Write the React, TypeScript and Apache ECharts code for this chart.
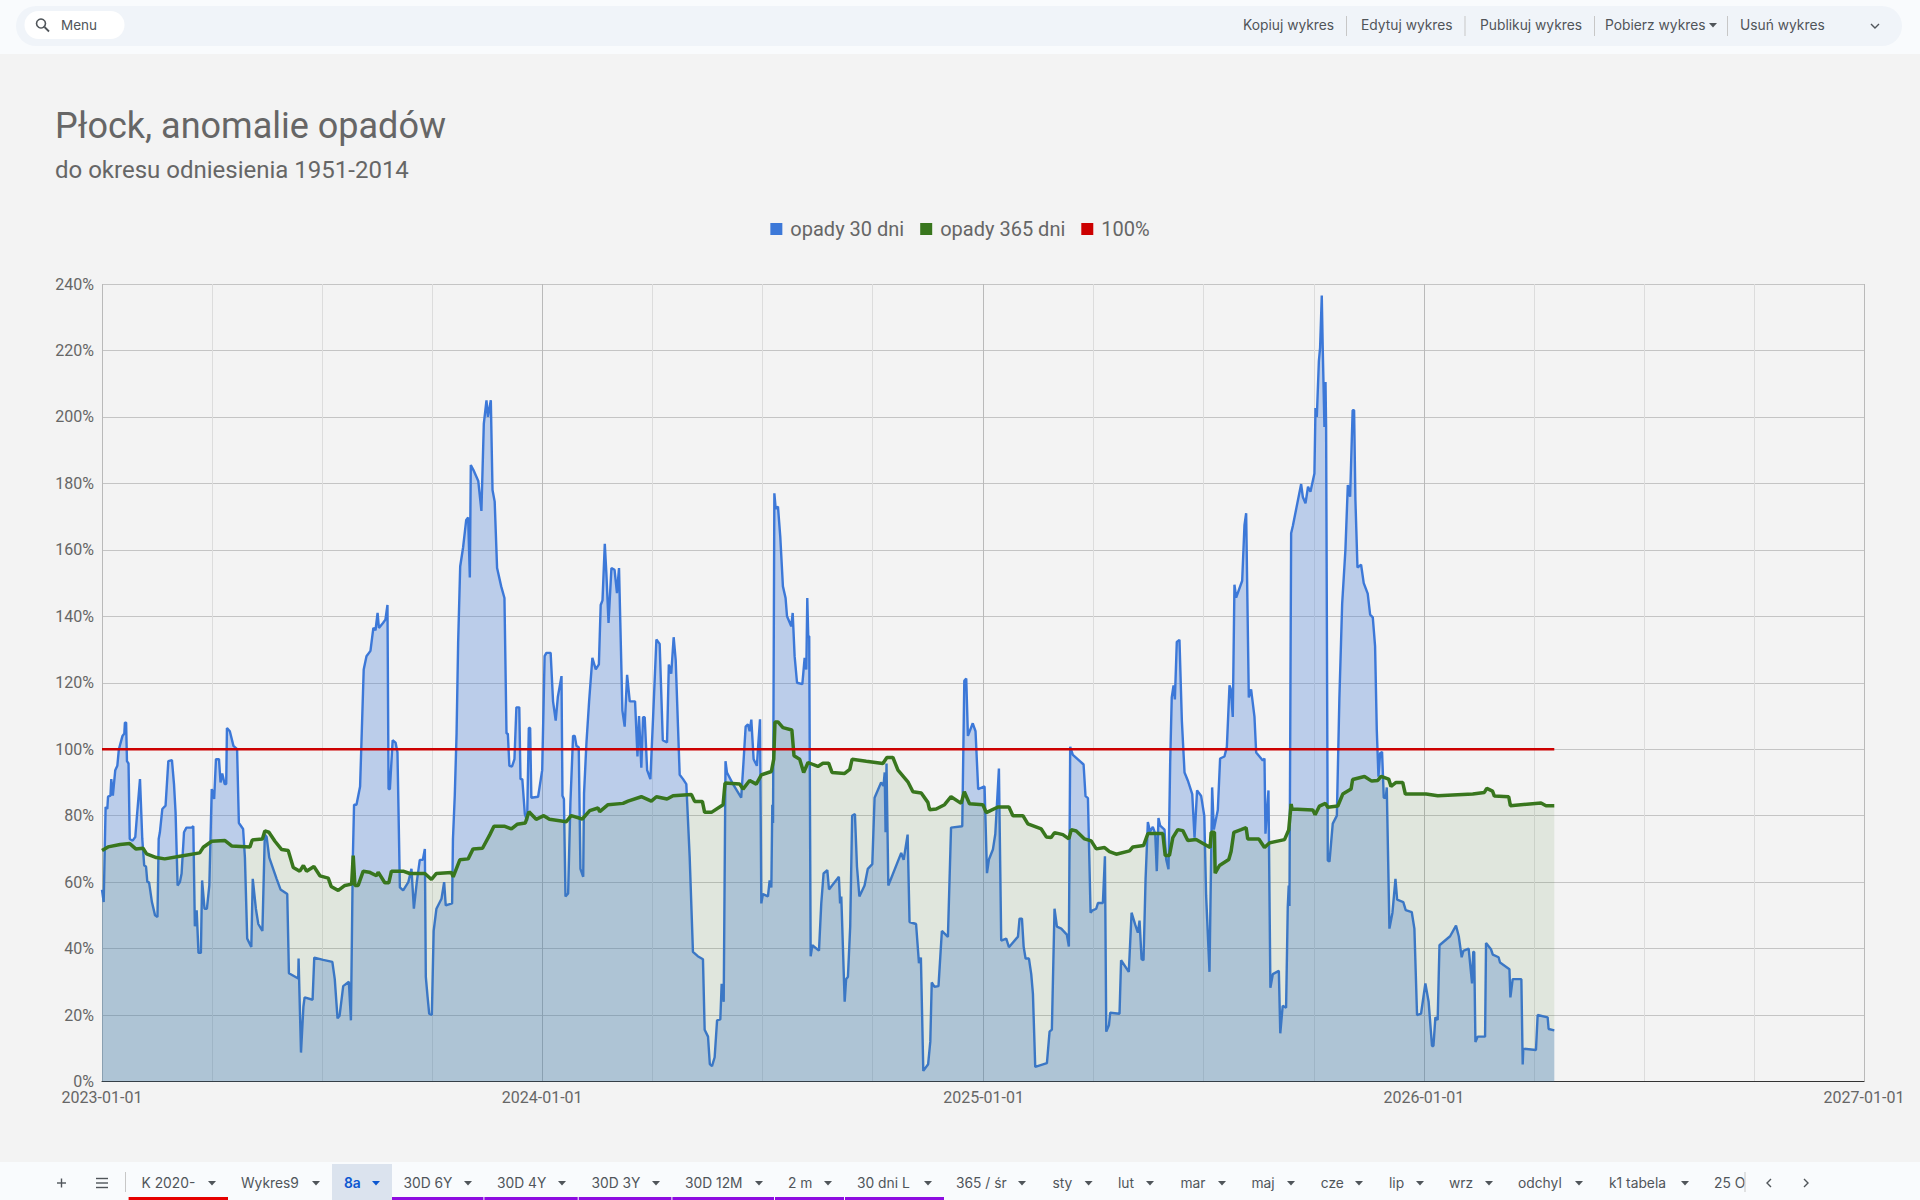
import React, { useEffect, useRef } from "react";
import * as echarts from "echarts";

const DAY_MS = 86400000;
const START = Date.UTC(2023, 0, 1);
const END = Date.UTC(2027, 0, 1);

const titleText = "Płock, anomalie opadów";
const subtitleText = "do okresu odniesienia 1951-2014";
const seriesNames = ["opady 30 dni", "opady 365 dni", "100%"];
const yearTicks = ["2023-01-01", "2024-01-01", "2025-01-01", "2026-01-01", "2027-01-01"];
// minor gridlines, in days since 2023-01-01: each year cut into four equal parts
const quarterTickDays = [91.3, 182.5, 273.8, 456.3, 547.7, 639, 822.3, 913.5, 1004.8, 1187.3, 1278.5, 1369.8];

// [days since 2023-01-01, percent]
const rain30: number[][] = [
  [0,57.7],[1.4,54],[3,82.6],[4.4,82],[5,85.7],[7,86],[7.7,91],[9,86],[11,93.7],[12.7,95],[14,100],[17,104],[18.5,104.7],[19,108],[20,108],[20.7,96.4],[22,95.7],[23,73],[25.4,72.5],[27.6,73.6],[29,80],[31.5,91],[32,91],[33.4,73],[35,65],[36.5,64.7],[37.6,60],[39,60],[41.4,54],[44,50],[46,49.5],[47,73],[48,75],[50,82],[52.7,83],[55,96.4],[58,96.7],[59.7,89.5],[61,81],[62.7,59],[64.6,60],[66,62.6],[68,75],[70,76.4],[74.3,76.4],[75.7,76.8],[77,46.7],[78.5,51.5],[80,38.7],[82,38.7],[83,60.5],[85,52],[87,52],[89,59],[91,88],[93,85],[94.5,97],[97,97],[98.3,90],[99.7,92.7],[101.7,89.5],[103,89.5],[103.6,106.4],[106,105.4],[109,101],[112,100],[113.5,77.8],[117,76],[118.5,67.4],[120.4,43],[123.8,40.5],[125,61],[127.6,52],[129.6,47.4],[133,45.3],[135,74.3],[136.5,73.6],[138.7,67.4],[144.8,61],[148,57.8],[153.6,56.4],[155,32.6],[162.7,31],[163,37],[165,8.7],[167,22.5],[168,25.3],[174.6,24.6],[176,37.3],[183.4,36.6],[191,36],[193,30.8],[195.3,19],[197,19.8],[200,28.7],[204.7,30],[206.4,18.4],
  [208,67.4],[209,83.3],[211,83.3],[214,88.8],[217,124],[219.3,128],[222.6,129.6],[225,136.5],[226.8,135.8],[228.5,141],[229.6,136.5],[233,138],[235,139],[236.7,143.4],[237.6,88],[238.7,88],[241,102.7],[243.4,102],[245,99],[247,58.4],[249.7,57.5],[254,60],[256.6,64],[258.6,52],[261,60],[263.5,66.7],[266,66.7],[267.7,70],[268.5,31.5],[270,25.3],[271.3,20.4],[273.5,20],[275,45.3],[277.3,52],[281.5,55],[283.7,60],[285,53],[290.3,53.6],[291,73],[292.5,86],[294,104.7],[295.3,132],[297,155],[299.4,160.7],[302,169],[303.6,169.7],[305,151.7],[305.8,185.5],[308,184],[312,180.7],[314.6,171.7],[316.6,198],[318.8,205],[320,200],[322.4,205],[323.8,178],[325.6,174.5],[327.6,154.5],[331,149],[333.7,145.5],[335.4,104.7],[336.5,104.7],[337.8,95],[340,94.8],[342,97],[343.6,112.6],[346,112.6],[347,91],[348.5,91],[350.6,80.5],[352.5,78.5],[353.9,106.4],[355,106.4],[356,85.4],[361.6,85.7],[365,93.7],
  [367,128],[368.5,129],[372,129],[374,114.4],[376.2,108.6],[378,115.8],[381,122],[381.8,86],[383,85],[384.3,55.7],[386.5,56.6],[388.4,84],[390.6,104],[392,104],[393.4,101],[395.3,100.6],[396.7,64],[399,61.6],[399.7,86.8],[401.7,102],[403.9,114.4],[406.6,127.5],[409.4,124],[412,125.5],[413.5,143.4],[415,144.8],[416.9,161.8],[418.2,153],[420,138],[422.4,154.5],[425,154],[427,147],[428.7,154.5],[431.5,111.6],[433.4,106.8],[435.4,122.4],[437.6,114.4],[442,114.4],[444,97.8],[445.3,110],[447.2,94.4],[448.6,109.6],[450,109.6],[452,93.7],[454.7,91],[457,110],[459.7,133],[462.4,131.7],[465,102.7],[468.5,102],[470,125.5],[472,122.7],[474,133.7],[475.7,126.8],[477.6,106.8],[479,92.3],[481.8,91],[484.5,89.5],[487.3,67.4],[490,39],[494,37.7],[498.3,36.8],[499.7,15.6],[502.5,13.5],[504,5.2],[505.8,4.6],[508,7.3],[510,18.4],[512.7,18.7],[513.8,29.4],[515.5,24],[517,96.4],[518.2,93],[523.2,89.5],[530,85.4],[531.5,93.7],[533.7,106.8],[535.6,107.5],[537,105.4],[538.4,108.9],[540.3,97],[543,95],[544,100.6],[545.6,109],[546.7,53.6],[548,56.4],[552.2,55.7],[553.6,60.5],[555,58.4],[555.8,83.3],[556.4,77.8],[557.5,177],[558.6,172.4],[560.5,173],[562.4,164],[564.6,149],[566.8,145.5],[568,140],[571.5,137],[572.7,141],[574.3,128],[576.3,120],[580.7,119.6],[582.6,127.5],[584,124],[584.8,145.5],[585.6,134],[586.4,134],[587.6,37.7],[589,41],[594.5,39.4],[596.4,53.6],[598.3,62.6],[601.4,63.6],[602.8,57.8],[611,61.6],[612,53.6],[613,55.7],[615.8,24],[617,30.8],[618.5,31.5],[620.4,46.7],[622,80],[624.3,80.5],[626,64.7],[628,55.7],[632.3,59],[635,64],[638.7,65.4],[640.6,85.4],[646,90],[648,89],[649,93],[649.7,75],[650.5,95.7],[652,59],[662.7,68.8],[664.7,66.7],[668,74.3],[669.6,48],[675,47.4],[677.4,35.6],[679,37.3],[681,3.2],[685,5.2],[686.8,12],[688,29.8],[690.3,28.5],[693.6,28.7],[696.4,45.3],[701.4,43.5],[704,76.4],[713.3,76.8],[715,120.6],[716.6,121.3],[718,104],[722,107.8],[724.3,105.4],[726.5,88],[731.8,88.8],[733.8,62.7],
  [735.4,66.8],[738.7,69.8],[740.7,74.5],[743.7,94.2],[745.6,42.4],[749.8,43],[752,40.4],[759.5,43.6],[760.8,49],[762.8,49],[764.2,40.6],[765.8,37],[768.6,37],[770.5,32.3],[771.9,26.4],[773.8,4.4],[783.5,5.5],[785.7,15],[787.6,15.6],[789.8,52],[791.8,46.6],[795.4,46],[800,44.2],[801.7,40.6],[802.8,100.7],[805,98.3],[813.9,95.4],[815.5,85.9],[817.5,85.3],[819.7,50.8],[821,51.4],[824.4,52],[825.8,53.7],[829.9,53.7],[831.6,67.8],[832.7,15],[834.9,16.9],[836,20.7],[843.7,20.4],[845,36.5],[851.4,33],[853.7,50.8],[856.7,47.2],[858.9,44.8],[860.3,48.4],[862,36.8],[863.6,36.5],[865.3,60.9],[867.2,78.1],[869,75.2],[871.3,76.6],[873.3,74.6],[874.6,63.3],[876,79.3],[877.4,77],[881,75.8],[882.4,66.8],[884.3,63.9],[885.7,96],[887,115.6],[888.5,119.2],[889.6,115],[891.2,132.3],[893.4,132.9],[895.4,108.5],[897.6,93],[900.3,90.6],[904,86.5],[905.9,73.4],[908,87.6],[911.4,85.9],[914,79.9],[915.5,56],[918.3,33],[920.5,88.5],[921.9,75.8],[925.2,81.7],[927.1,97.2],[930.7,97.8],[932.7,100.7],[934.9,119.2],[936,118],[937.6,109.7],[939,149.5],[940.4,145.6],[945.4,150.7],[947.3,167.4],[948.7,171],[950.9,115.6],[952.8,118],[955.6,109.7],[957,99],[962.5,96.6],[963.9,97.2],[964.7,74.6],[967.2,87.6],[968.8,28.2],[970.8,32.3],[975.8,33.3],[977,14.5],[979,22.8],[981.8,22.2],[983.2,52.5],[984,59],[984.6,52.8],
  [986,165],[987.4,167.2],[994.3,179.8],[995.7,175.9],[997.9,174],[1000,179],[1002,177.5],[1005.3,183],[1006.2,202.7],[1007.3,200],[1009,216.8],[1010,220.8],[1011.4,236.5],[1012.2,220.8],[1013.6,197],[1014.5,210.5],[1015,197],[1016.4,66.5],[1017.8,66.2],[1020.5,77.6],[1023.9,80],[1026,115.3],[1028.3,143.7],[1031,160],[1033,179.5],[1034.9,176],[1037,202],[1038.2,202],[1039.3,175],[1041,154.7],[1044,155.5],[1046.2,150],[1049.5,146.8],[1051.5,140.5],[1053.7,139.7],[1055.6,131],[1057,105.9],[1058.4,91.7],[1059.8,98.8],[1061.4,99.2],[1062.8,85.4],[1064.5,85.4],[1065.3,88.5],[1067.5,46],[1070,50.8],[1072.5,61],[1073.9,54.7],[1079,54],[1081,51.6],[1086,51],[1088.2,46],[1090.4,20],[1093.7,20.4],[1097.3,29.5],[1100,24],[1102.8,10.7],[1104,10.7],[1105.6,19.3],[1107.5,18.5],[1109,41],[1117.8,43.7],[1122.7,46.9],[1125,43.7],[1127.4,37.4],[1128.8,39.3],[1133.2,40],[1136,29.5],[1137,39],[1137.8,39],[1138.8,11.9],[1140.7,13.5],[1146.8,13.5],[1147.6,41.7],[1151.7,39.8],[1153.2,38.2],[1158,37.4],[1159.2,35.8],[1167,33.8],[1167.8,25.3],[1169.7,30.8],[1176.9,30.8],[1178,5.1],[1178.5,9.9],[1189,9.5],[1190.4,20],[1198.7,19.3],[1199.5,15.8],[1204.2,15.4],
];

const rain365: number[][] = [
  [0,69.5],[5,70.6],[15,71.3],[23,71.6],[28,70],[34,70.2],[37,68.5],[45,67.4],[52,67],[64.6,67.8],[81,68.8],[84,70.5],[91,72.3],[102,72.5],[107.5,70.9],[122.7,70.6],[124.6,72.7],[133,73],[135,75.4],[138.4,75],[143.4,72.3],[149,69.8],[154.4,69.5],[158.6,64.4],[164,63.3],[167,65],[169.6,63.3],[175.7,64.7],[180.7,61.9],[187.6,61.2],[190,58.7],[195.9,57.5],[201.4,59],[207,59.4],[208.3,68],[209.7,59],[212.4,59],[216.6,63.3],[221.6,63],[227.6,61.9],[229,63],[234.5,59.8],[237.8,59.8],[240,63.3],[249.7,63.3],[255.2,62.6],[267.7,62.6],[273.2,60.8],[277.3,62.6],[289.8,62.9],[291.2,61.6],[296.7,66.7],[303.6,67],[307.7,70],[315.5,70.2],[321.6,74.3],[325,76.8],[334,76.8],[339.5,76],[344.2,77.4],[351,77.8],[354,81.2],[360,78.9],[366.3,80],
  [371,78.9],[385,78.2],[389,80],[398.3,79],[404.4,81.5],[411.3,82.3],[412.7,81.2],[419.6,83.3],[432,83.7],[436.2,84.4],[447.2,85.7],[455.5,84.4],[459.7,85.7],[468.5,85],[473.5,86],[488.7,86.4],[491.4,84.3],[497.8,84.3],[499.7,81],[505.3,81],[515,83.3],[516.6,89.8],[528.7,89.5],[531.5,88],[537,90.6],[542.5,89.5],[546.7,92.3],[555,93.3],[557,97],[558,108.2],[560.5,108.2],[564.6,106.5],[572,105.8],[573.8,98],[578.5,97],[581.8,93],[585.4,96],[593.6,94.8],[597.8,95.8],[602.5,95.8],[605.3,93],[615.8,92.7],[620,93.9],[622,97],[633.7,96.4],[647.5,95.7],[650.8,97.5],[655.8,97.5],[660,93.7],[668.2,90.2],[672.4,87.2],[679.3,86.8],[684.8,84],[686.2,81.8],[691.7,82],[698.6,83.3],[704,85.7],[712.4,83.7],[715,87.2],[719.3,83.6],[730.4,83.3],[733.2,80.9],
  [742.9,82.6],[752,82.6],[755.3,80],[763.6,80],[767.7,77.5],[778.8,76],[783,73.6],[787,73.4],[789.8,74.9],[796.7,74.3],[801.7,73],[803.7,75.8],[807.8,75.4],[814.7,73],[820.2,72.4],[824.4,70],[831.3,70.4],[835.4,69.2],[841,68.4],[852,69.4],[854.8,70.6],[863.6,71],[867.2,74.6],[879.6,74.6],[881.6,68],[885.1,68],[887.9,73.4],[892,75.8],[896.2,75.5],[900.3,72.5],[907.2,72.8],[918.8,70.4],[919.7,75],[922.4,75],[923,62.7],[926.6,65],[934.3,66.8],[936.2,69.2],[938.5,75],[944.5,75.8],[948.7,76.4],[950,73],[959.2,73],[963.9,70.4],[968,71.8],[980.5,72.8],[984,75.7],[986,83.5],[986.8,82],[1004,81.7],[1005.9,80.3],[1009.5,82.9],[1014.4,83.7],[1016.4,82.5],[1024.7,82.9],[1028.8,86.5],[1035.7,88],[1037,90.9],[1046.8,91.8],[1052.8,90.4],[1057.8,90.6],[1060.6,91.8],[1066.9,91],[1068.8,88.8],[1073,90],[1078.5,90],[1080.7,86.5],
  [1097.9,86.5],[1107.6,86],[1136.6,86.5],[1146.2,87],[1148.2,88.2],[1153,87.4],[1154.5,85.9],[1166.4,85.7],[1167.8,83],[1193.2,83.8],[1197.3,83],[1204.2,83],
];

const reference100: number[][] = [[0,100],[1204.2,100]];

const toolbarLabels = ["Kopiuj wykres", "Edytuj wykres", "Publikuj wykres", "Pobierz wykres", "Usuń wykres"];
const toolbarX = [1243, 1361, 1480, 1605, 1740];
const toolbarSeparators = [1346.5, 1465, 1594.5, 1727.5];

const tabLabels = ["K 2020-","Wykres9","8a","30D 6Y","30D 4Y","30D 3Y","30D 12M","2 m","30 dni L","365 / śr","sty","lut","mar","maj","cze","lip","wrz","odchyl","k1 tabela"];
const tabTextX = [141.5,241,344,403.5,497,591.5,685,788,857,956,1052.5,1118,1180.5,1251.5,1320.7,1389,1449,1518,1609];
const tabArrowX = [212,316,376,468,562,656,759,828,928,1022,1088.6,1150,1222,1291,1359,1420,1489,1579,1685];
const purpleEdges = [392,484.4,578.7,672.4,775,845,945];

const FONT = "Roboto";
const UI_FONT = "Inter";
const UI = "#50555a";

function days(points: number[][]) {
  return points.map(([d, v]) => [START + d * DAY_MS, v]);
}
function uiText(text: string, x: number, y: number, extra: any = {}) {
  return { type: "text", x, y, silent: true, style: { text, fontFamily: UI_FONT, fontSize: 13.8, fill: UI, verticalAlign: "middle", ...extra } };
}
function arrow(x: number, y: number, fill = UI) {
  return { type: "polygon", silent: true, shape: { points: [[x - 4, y - 2], [x + 4, y - 2], [x, y + 2.5]] }, style: { fill } };
}
function rect(x: number, y: number, width: number, height: number, fill: string, r = 0) {
  return { type: "rect", silent: true, shape: { x, y, width, height, r }, style: { fill } };
}
function line(x1: number, y1: number, x2: number, y2: number, stroke: string, lineWidth = 1) {
  return { type: "line", silent: true, shape: { x1, y1, x2, y2 }, style: { stroke, lineWidth } };
}

function chrome() {
  const els: any[] = [
    rect(0, 0, 1920, 54, "#f9fbfd"),
    rect(16, 6, 1886, 40, "#f0f4f9", 20),
    rect(24.5, 11, 100, 28, "#ffffff", 14),
    { type: "circle", silent: true, shape: { cx: 41, cy: 23.5, r: 4.5 }, style: { fill: "none", stroke: UI, lineWidth: 1.6 } },
    line(44.5, 27, 49, 31.5, UI, 1.8),
    uiText("Menu", 61, 25, { fontSize: 13.5 }),
    rect(0, 1162, 1920, 38, "#f9fbfd"),
    rect(332, 1164, 60, 36, "#dbe3ee"),
    line(57, 1183, 66, 1183, UI, 1.4),
    line(61.5, 1178.5, 61.5, 1187.5, UI, 1.4),
    line(96, 1178.5, 108, 1178.5, UI, 1.4),
    line(96, 1183, 108, 1183, UI, 1.4),
    line(96, 1187.5, 108, 1187.5, UI, 1.4),
    line(125.5, 1172, 125.5, 1192, "#c7c7c7"),
    rect(128.6, 1197, 99.4, 3, "#e60000"),
    uiText("25 O", 1714, 1182.5),
    line(1745, 1172, 1745, 1192, "#c7c7c7"),
    { type: "polyline", silent: true, shape: { points: [[1771, 1179], [1767, 1183], [1771, 1187]] }, style: { fill: "none", stroke: UI, lineWidth: 1.4 } },
    { type: "polyline", silent: true, shape: { points: [[1804, 1179], [1808, 1183], [1804, 1187]] }, style: { fill: "none", stroke: UI, lineWidth: 1.4 } },
    { type: "polyline", silent: true, shape: { points: [[1871, 24], [1875, 28], [1879, 24]] }, style: { fill: "none", stroke: UI, lineWidth: 1.4 } },
    arrow(1713, 25),
  ];
  toolbarLabels.forEach((t, i) => els.push(uiText(t, toolbarX[i], 25)));
  toolbarSeparators.forEach((x) => els.push(line(x, 16, x, 36, "#c7c7c7")));
  tabLabels.forEach((t, i) => {
    const active = t === "8a";
    els.push(uiText(t, tabTextX[i], 1182.5, active ? { fill: "#0b57d0", fontWeight: 600 } : {}));
    els.push(arrow(tabArrowX[i], 1183, active ? "#0b57d0" : UI));
  });
  purpleEdges.slice(0, -1).forEach((x, i) => {
    els.push(rect(x, 1197, purpleEdges[i + 1] - x - 1, 3, "#8e0ce0"));
  });
  return els;
}

export default function App() {
  const ref = useRef<HTMLDivElement>(null);
  useEffect(() => {
    document.body.style.margin = "0";
    const chart = echarts.init(ref.current!, null, { renderer: "svg" });
    const commonX = { type: "value", min: START, max: END, gridIndex: 0, position: "bottom", scale: true };
    const quarterValues = quarterTickDays.map((d) => START + d * DAY_MS);
    chart.setOption({
      animation: false,
      backgroundColor: "#f3f3f3",
      textStyle: { fontFamily: FONT },
      title: [
        { text: titleText, left: 55, top: 108, padding: 0, textStyle: { fontFamily: FONT, fontSize: 36, fontWeight: "normal", color: "#666666" } },
        { text: subtitleText, left: 55, top: 157.5, padding: 0, textStyle: { fontFamily: FONT, fontSize: 24, fontWeight: "normal", color: "#666666" } },
      ],
      legend: {
        show: true, top: 219, left: "center", icon: "rect", itemWidth: 12, itemHeight: 12, itemGap: 16,
        padding: 0, data: seriesNames,
        textStyle: { fontFamily: FONT, fontSize: 20, color: "#666666", padding: [0, 0, 0, 3] },
      },
      grid: { left: 102, right: 56, top: 284, bottom: 118.5, containLabel: false },
      xAxis: [
        {
          ...commonX,
          axisLine: { show: true, onZero: false, lineStyle: { color: "#333333", width: 1 } },
          axisTick: { show: false, customValues: yearTicks.map((s) => Date.parse(s)) },
          axisLabel: {
            show: true, margin: 8, fontFamily: FONT, fontSize: 16, color: "#666666", hideOverlap: false,
            customValues: yearTicks.map((s) => Date.parse(s)),
            formatter: (v: number) => new Date(v).toISOString().slice(0, 10),
          },
          splitLine: { show: true, showMinLine: true, showMaxLine: true, lineStyle: { color: "#b9b9b9", width: 1 } },
        },
        {
          ...commonX,
          axisLine: { show: false },
          axisTick: { show: false, customValues: quarterValues },
          axisLabel: { show: false, customValues: quarterValues },
          splitLine: { show: true, lineStyle: { color: "#dcdcdc", width: 1 } },
        },
      ],
      yAxis: {
        type: "value", min: 0, max: 240, interval: 20,
        axisLine: { show: false }, axisTick: { show: false },
        axisLabel: { margin: 8, fontFamily: FONT, fontSize: 16, color: "#666666", formatter: "{value}%" },
        splitLine: { show: true, lineStyle: { color: "#c4c4c4", width: 1 } },
      },
      series: [
        {
          name: seriesNames[0], type: "line", xAxisIndex: 0, data: days(rain30), showSymbol: false, symbol: "none",
          itemStyle: { color: "#3c78d8" }, lineStyle: { color: "#3c78d8", width: 2.4 },
          areaStyle: { color: "#3c78d8", opacity: 0.3 }, z: 3,
        },
        {
          name: seriesNames[1], type: "line", xAxisIndex: 0, data: days(rain365), showSymbol: false, symbol: "none",
          itemStyle: { color: "#38761d" }, lineStyle: { color: "#38761d", width: 3.5 },
          areaStyle: { color: "#38761d", opacity: 0.1 }, z: 4,
        },
        {
          name: seriesNames[2], type: "line", xAxisIndex: 0, data: days(reference100), showSymbol: false, symbol: "none",
          itemStyle: { color: "#cc0000" }, lineStyle: { color: "#cc0000", width: 2.4 }, z: 5,
        },
      ],
      graphic: { elements: chrome() },
    });
    return () => chart.dispose();
  }, []);
  return <div ref={ref} style={{ width: 1920, height: 1200 }} />;
}
